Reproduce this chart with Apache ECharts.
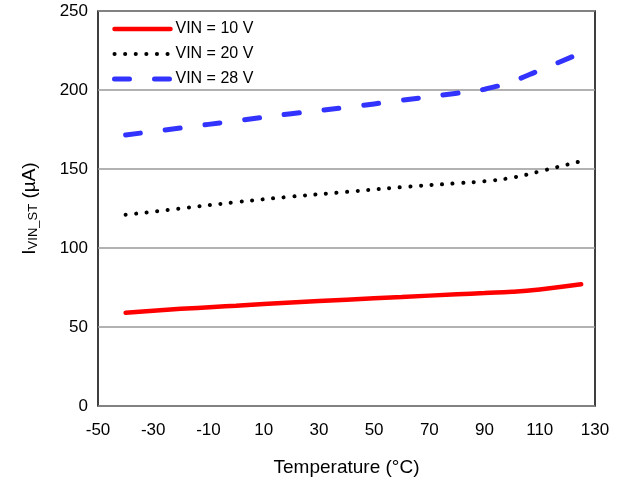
<!DOCTYPE html>
<html>
<head>
<meta charset="utf-8">
<script src="https://cdn.jsdelivr.net/npm/echarts@6/dist/echarts.min.js"></script>
<style>
  html, body { margin: 0; padding: 0; background: #fff; }
  #chart { width: 618px; height: 483px; }
</style>
</head>
<body>
<div id="chart"></div>
<script>
// 温度点 (°C)
const temps = [-40, -20, 0, 20, 40, 60, 80, 90, 100, 110, 125]
// 各 VIN 下的电流 (µA)
const vin10 = [59, 61.5, 63.5, 65.5, 67.3, 69, 70.7, 71.5, 72.3, 73.8, 77]
const vin20 = [121, 125, 129, 132.5, 135.5, 138.5, 141, 142.3, 144.5, 148.5, 155]
const vin28 = [171.5, 176, 180.5, 185, 189, 193.5, 198, 200.5, 205.5, 212.5, 223.5]
const seriesNames = ['VIN = 10 V', 'VIN = 20 V', 'VIN = 28 V']
const xTickLabels = [-50, -30, -10, 10, 30, 50, 70, 90, 110, 130]

const pair = (ys) => temps.map((t, i) => [t, ys[i]])

const styles = [
  { color: '#ff0000', width: 4.5, type: 'solid', cap: 'round' },
  { color: '#000', width: 4, type: [0.1, 10.5], cap: 'round' },
  { color: '#3333ff', width: 5, type: [15, 25], cap: 'round' }
]
const series = [vin10, vin20, vin28]

const chart = echarts.init(document.getElementById('chart'))
const font = 'Liberation Sans, Arial, sans-serif'

const option = {
  animation: false,
  textStyle: { fontFamily: font },
  grid: { left: 98, right: 23, top: 11, bottom: 77, show: true, borderColor: '#000', borderWidth: 1.5 },
  legend: {
    orient: 'vertical',
    left: 107,
    top: 16,
    itemWidth: 56,
    itemHeight: 14,
    itemGap: 9,
    itemStyle: { opacity: 0 },
    textStyle: { fontFamily: 'Liberation Sans Narrow, Arial Narrow, sans-serif', fontSize: 16, color: '#000' },
    data: seriesNames.map((n, i) => ({ name: n, lineStyle: styles[i] }))
  },
  xAxis: {
    type: 'value',
    min: -50,
    max: 130,
    interval: 10,
    name: 'Temperature (°C)',
    nameLocation: 'middle',
    nameGap: 52,
    nameTextStyle: { fontSize: 19, color: '#000' },
    axisLine: { show: false },
    axisTick: { show: false },
    splitLine: { show: false },
    axisLabel: {
      fontSize: 17,
      color: '#000',
      margin: 16,
      formatter: (v) => (xTickLabels.includes(v) ? String(v) : '')
    }
  },
  yAxis: {
    type: 'value',
    min: 0,
    max: 250,
    interval: 50,
    name: '{i|I}{s|VIN_ST}{i| (µA)}',
    nameLocation: 'middle',
    nameGap: 58,
    nameRotate: 90,
    nameTextStyle: {
      rich: {
        i: { fontSize: 19, color: '#000', fontFamily: font },
        s: { fontSize: 13, color: '#000', fontFamily: font, verticalAlign: 'bottom', padding: [8, 0, 0, 0] }
      }
    },
    axisLine: { show: false },
    axisTick: { show: false },
    axisLabel: { fontSize: 17, color: '#000', margin: 10 },
    splitLine: { lineStyle: { color: '#999', width: 1.5 } }
  },
  series: series.map((ys, i) => ({
    name: seriesNames[i],
    type: 'line',
    smooth: true,
    symbol: 'none',
    data: pair(ys),
    lineStyle: styles[i],
    itemStyle: { color: styles[i].color }
  }))
}

chart.setOption(option)
</script>
</body>
</html>
